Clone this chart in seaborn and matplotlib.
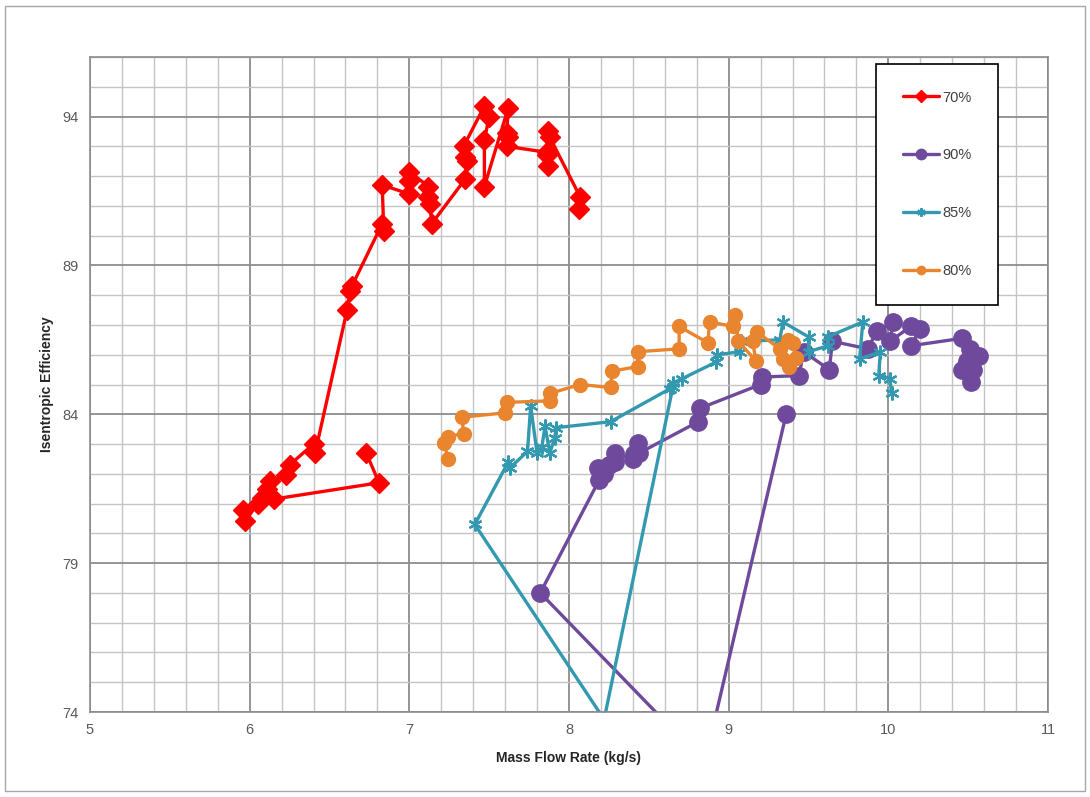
import numpy as np
import pandas as pd
import matplotlib
matplotlib.use("Agg")
import matplotlib.pyplot as plt
from matplotlib.ticker import MultipleLocator, FixedLocator
from matplotlib.patches import Rectangle
import seaborn as sns

# ---- data ----
x70 = [6.73, 6.81, 6.15, 5.96, 5.97, 6.05, 6.08, 6.11, 6.13, 6.23, 6.25, 6.40, 6.41,
       6.61, 6.63, 6.64, 6.83, 6.84, 6.83, 7.00, 7.00, 7.00, 7.12, 7.12, 7.13, 7.14,
       7.35, 7.36, 7.35, 7.34, 7.47, 7.50, 7.47, 7.47, 7.62, 7.61, 7.62, 7.61,
       7.86, 7.87, 7.86, 7.87, 7.88, 8.07, 8.06]
y70 = [82.7, 81.7, 81.15, 80.8, 80.4, 81.0, 81.2, 81.5, 81.75, 81.95, 82.3, 83.0, 82.7,
       87.5, 88.15, 88.3, 90.4, 90.15, 91.7, 91.4, 91.85, 92.15, 91.65, 91.3, 91.05, 90.4,
       91.9, 92.5, 92.65, 93.0, 94.35, 94.0, 93.2, 91.65, 94.3, 93.45, 93.3, 93.0,
       92.8, 92.35, 92.7, 93.5, 93.3, 91.3, 90.9]

x90 = [10.52, 10.53, 10.46, 10.49, 10.57, 10.51, 10.46, 10.14, 10.20, 10.14, 10.01, 10.03,
       9.93, 9.87, 9.65, 9.63, 9.47, 9.44, 9.21, 9.20, 8.82, 8.81, 8.44, 8.43, 8.41,
       8.40, 8.29, 8.29, 8.25, 8.22, 8.22, 8.18, 8.19, 7.82, 8.85, 9.36]
y90 = [85.1, 85.5, 85.5, 85.8, 85.95, 86.2, 86.55, 86.3, 86.85, 86.95, 86.45, 87.1,
       86.8, 86.2, 86.45, 85.5, 86.1, 85.3, 85.25, 85.0, 84.2, 83.75, 82.7, 83.05, 82.65,
       82.5, 82.7, 82.4, 82.3, 82.15, 82.0, 82.2, 81.8, 78.0, 72.3, 84.0]

x85 = [10.02, 10.01, 9.94, 9.95, 9.82, 9.84, 9.62, 9.62, 9.50, 9.50, 9.34, 9.32, 9.08,
       9.07, 8.93, 8.92, 8.71, 8.65, 8.63, 8.26, 7.92, 7.91, 7.88, 7.85, 7.83, 7.80,
       7.76, 7.74, 7.63, 7.62, 7.41, 8.22, 8.65]
y85 = [84.7, 85.2, 85.3, 86.1, 85.85, 87.1, 86.6, 86.3, 86.1, 86.6, 87.1, 86.5, 86.45,
       86.1, 86.0, 85.75, 85.2, 85.05, 84.85, 83.75, 83.55, 83.2, 82.7, 83.6, 82.9, 82.7,
       84.27, 82.75, 82.2, 82.4, 80.3, 73.75, 84.9]

x80 = [7.24, 7.22, 7.24, 7.34, 7.33, 7.60, 7.61, 7.88, 7.88, 8.07, 8.26, 8.27, 8.43,
       8.43, 8.69, 8.69, 8.87, 8.88, 9.03, 9.04, 9.06, 9.17, 9.15, 9.18, 9.32, 9.37,
       9.40, 9.42, 9.38, 9.34]
y80 = [82.5, 83.05, 83.25, 83.35, 83.9, 84.05, 84.4, 84.45, 84.7, 85.0, 84.9, 85.45, 85.6,
       86.1, 86.2, 86.95, 86.4, 87.1, 86.95, 87.35, 86.45, 85.8, 86.45, 86.75, 86.2, 86.5,
       86.4, 85.9, 85.6, 85.85]

series_labels = ["70%", "90%", "85%", "80%"]
x_ticks = [5, 6, 7, 8, 9, 10, 11]
y_ticks = [74, 79, 84, 89, 94]

# ---- styling ----
sns.set_style("white")
plt.rcParams["font.family"] = ["Liberation Sans", "DejaVu Sans"]

fig = plt.figure(figsize=(10.9, 7.97), dpi=100)
ax = fig.add_axes([90 / 1090, (797 - 712) / 797, (1048 - 90) / 1090, (712 - 57) / 797])

styles = {
    "70%": dict(color="#FF0000", marker="D", markersize=10.5),
    "90%": dict(color="#6F4A9C", marker="o", markersize=12.5),
    "85%": dict(color="#3399B0", marker=(6, 2, 0), markersize=10, markeredgewidth=1.6),
    "80%": dict(color="#E8852E", marker="o", markersize=10),
}

data = {"70%": (x70, y70), "90%": (x90, y90), "85%": (x85, y85), "80%": (x80, y80)}
for lab in series_labels:
    xs, ys = data[lab]
    df = pd.DataFrame({"x": xs, "y": ys})
    st = styles[lab]
    sns.lineplot(data=df, x="x", y="y", ax=ax, sort=False, estimator=None,
                 color=st["color"], linewidth=2.4, marker=st["marker"],
                 markersize=st["markersize"], markeredgecolor=st["color"],
                 markerfacecolor=st["color"],
                 markeredgewidth=st.get("markeredgewidth", 1.0), label=lab)

ax.set_xlim(5, 11)
ax.set_ylim(74, 96)
ax.xaxis.set_major_locator(FixedLocator(x_ticks))
ax.yaxis.set_major_locator(FixedLocator(y_ticks))
ax.xaxis.set_minor_locator(MultipleLocator(0.2))
ax.yaxis.set_minor_locator(MultipleLocator(1))
ax.grid(which="major", color="#8c8c8c", linewidth=1.3)
ax.grid(which="minor", color="#c4c4c4", linewidth=1.0)
ax.set_axisbelow(True)
ax.tick_params(which="both", length=0, labelsize=10.5, colors="#595959", pad=8)
for s in ax.spines.values():
    s.set_color("#8c8c8c")
    s.set_linewidth(1.2)

ax.set_xlabel("Mass Flow Rate (kg/s)", fontsize=10, fontweight="bold", color="#262626", labelpad=10)
ax.set_ylabel("Isentropic Efficiency", fontsize=10, fontweight="bold", color="#262626", labelpad=6)

leg = ax.legend(loc="upper left", bbox_to_anchor=(0.82, 0.99), frameon=True,
                fancybox=False, edgecolor="black", framealpha=1, fontsize=10.5,
                labelspacing=3.0, borderpad=1.85, handlelength=2.5, handletextpad=0.2,
                markerscale=0.6, borderaxespad=0)
leg.get_frame().set_linewidth(1.2)
for t in leg.get_texts():
    t.set_color("#404040")

fig.patches.append(Rectangle((0.005, 0.008), 0.99, 0.984, transform=fig.transFigure,
                             fill=False, edgecolor="#a6a6a6", linewidth=1.0))

fig.savefig("out.png", dpi=100)
